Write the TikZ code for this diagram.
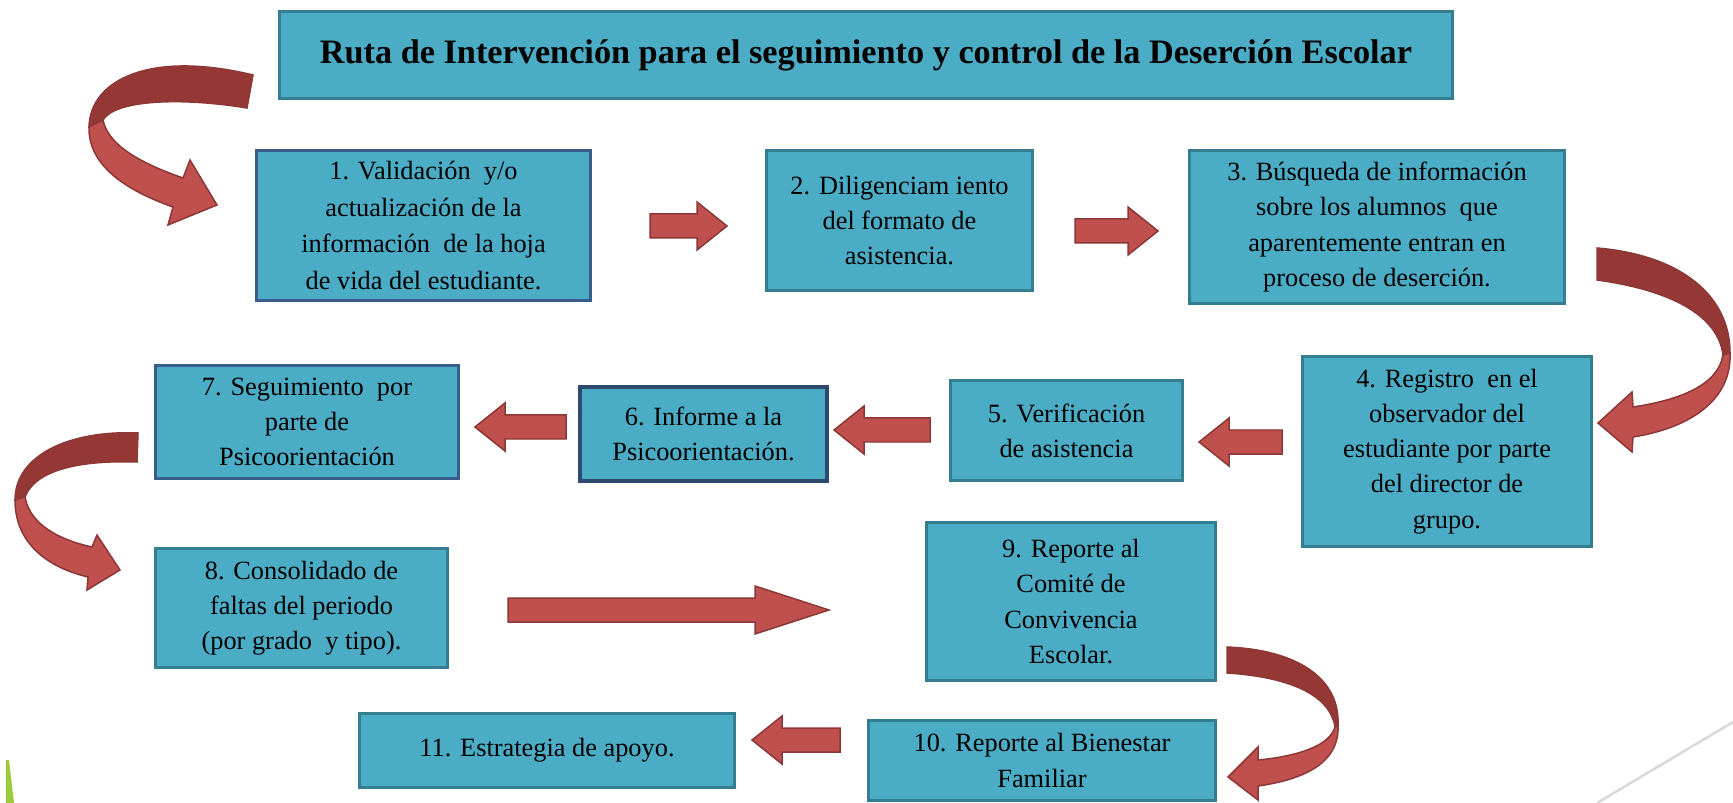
\documentclass[tikz,border=0pt]{standalone}
\usepackage{fontspec}
\setmainfont{Liberation Serif}
\usetikzlibrary{positioning}
\definecolor{cajaazul}{HTML}{4BACC6}
\definecolor{bordeteal}{HTML}{357D91}
\definecolor{bordeazul}{HTML}{385D8A}
\definecolor{rojoflecha}{HTML}{C0504D}
\definecolor{rojooscuro}{HTML}{953735}
\definecolor{rojoborde}{HTML}{8C3836}
\definecolor{verdehoja}{HTML}{9BCB3B}
\definecolor{grislinea}{HTML}{D9D9D9}
\tikzset{
  caja/.style={draw=bordeteal, fill=cajaazul, line width=0.06cm, align=center,
    inner sep=2pt, font=\fontsize{15}{20}\selectfont},
  cajaazul/.style={caja, draw=bordeazul},
  flecha/.style={fill=rojoflecha, draw=rojoborde, line width=0.03cm, line join=miter},
  flechaosc/.style={fill=rojooscuro, draw=rojoborde, line width=0.03cm},
}
% flecha de bloque: cola, punta, y centro, largo de la cabeza
\newcommand{\flechabloque}[4]{
  \pgfmathsetmacro{\xcab}{#2-#4*sign(#2-#1)}
  \draw[flecha] (#1,#3-12) -- (\xcab,#3-12) -- (\xcab,#3-24) -- (#2,#3)
    -- (\xcab,#3+24) -- (\xcab,#3+12) -- (#1,#3+12) -- cycle;
}

\begin{document}
\begin{tikzpicture}[x=0.02cm, y=-0.02cm] % {{{
\useasboundingbox (0,0) rectangle (1733,803);
% adornos de la plantilla
\fill[verdehoja] (6,760) -- (9,760) -- (14,803) -- (6,803) -- cycle;
\draw[grislinea, line width=0.05cm] (1597,803) -- (1733,722);

% Cajas {{{
\node[caja, minimum width=23.48cm, minimum height=1.76cm,
  font=\fontsize{19.5}{23}\selectfont\bfseries] (titulo) at (866,55)
  {Ruta de Intervención para el seguimiento y control de la Deserción Escolar};
\node[cajaazul, minimum width=6.70cm, minimum height=3.02cm,
  font=\fontsize{15}{21}\selectfont] (paso1) at (423.5,225.5)
  {1. Validación\ \ y/o\\actualización de la\\información\ \ de la hoja\\de vida del estudiante.};
\node[caja, minimum width=5.34cm, minimum height=2.82cm] (paso2) at (899.5,220.5)
  {2. Diligenciam iento\\del formato de\\asistencia.};
\node[caja, minimum width=7.52cm, minimum height=3.08cm] (paso3) at (1377,227)
  {3. Búsqueda de información\\sobre los alumnos\ \ que\\aparentemente entran en\\proceso de deserción.};
\node[caja, minimum width=5.80cm, minimum height=3.82cm] (paso4) at (1447,451.5)
  {4. Registro\ \ en el\\observador del\\estudiante por parte\\del director de\\grupo.};
\node[caja, minimum width=4.66cm, minimum height=2.02cm] (paso5) at (1066.5,430.5)
  {5. Verificación\\de asistencia};
\node[cajaazul, line width=0.08cm, draw=bordeazul!80!black, minimum width=4.94cm,
  minimum height=1.88cm] (paso6) at (703.5,434)
  {6. Informe a la\\Psicoorientación.};
\node[cajaazul, minimum width=6.08cm, minimum height=2.28cm] (paso7) at (307,422)
  {7. Seguimiento\ \ por\\parte de\\Psicoorientación};
\node[caja, minimum width=5.86cm, minimum height=2.40cm] (paso8) at (301.5,608)
  {8. Consolidado de\\faltas del periodo\\(por grado\ \ y tipo).};
\node[caja, minimum width=5.80cm, minimum height=3.18cm] (paso9) at (1071,601.5)
  {9. Reporte al\\Comité de\\Convivencia\\Escolar.};
\node[caja, minimum width=6.96cm, minimum height=1.62cm] (paso10) at (1042,760.5)
  {10. Reporte al Bienestar\\Familiar};
\node[caja, minimum width=7.52cm, minimum height=1.50cm] (paso11) at (547,750.5)
  {11. Estrategia de apoyo.};
% }}}

% Flechas rectas {{{
\foreach \xa/\xb/\yc/\cab in {650/727/226/30, 1075/1158/231/30, 1282/1199/442/30,
    930/834/430/30, 566/475/427/30, 508/829/610/74, 840/752/740/30} {
  \flechabloque{\xa}{\xb}{\yc}{\cab}
}
% }}}

% Flechas curvas {{{
% entrada a paso 1
\draw[flechaosc] (253,75) .. controls (150,50) and (90,80) .. (89,127) -- (103,120)
  .. controls (115,100) and (180,97) .. (247,108) -- cycle;
\draw[flecha] (89,127) .. controls (88,165) and (125,190) .. (173,207) -- (168,225)
  -- (217,205) -- (190,160) -- (183,178) .. controls (140,163) and (108,145) .. (103,120) -- cycle;
% paso 3 a paso 4
\draw[flechaosc] (1597,248) .. controls (1680,255) and (1730,295) .. (1730,353) -- (1723,355)
  .. controls (1718,315) and (1670,290) .. (1597,280) -- cycle;
\draw[flecha] (1730,353) .. controls (1732,400) and (1690,428) .. (1633,437) -- (1632,452)
  -- (1598,423) -- (1632,392) -- (1633,407) .. controls (1680,400) and (1718,385) .. (1723,355) -- cycle;
% paso 7 a paso 8
\draw[flechaosc] (138,433) .. controls (70,430) and (15,455) .. (15,500) -- (25,497)
  .. controls (35,470) and (80,460) .. (137,462) -- cycle;
\draw[flecha] (15,500) .. controls (15,545) and (50,568) .. (88,577) -- (87,590)
  -- (120,570) -- (97,535) -- (92,547) .. controls (60,540) and (30,525) .. (25,497) -- cycle;
% paso 9 a paso 10
\draw[flechaosc] (1227,647) .. controls (1300,650) and (1340,680) .. (1338,725) -- (1335,727)
  .. controls (1330,695) and (1290,677) .. (1227,673) -- cycle;
\draw[flecha] (1338,725) .. controls (1340,765) and (1300,780) .. (1258,786) -- (1258,800)
  -- (1228,777) -- (1258,747) -- (1258,760) .. controls (1300,756) and (1330,745) .. (1335,727) -- cycle;
% }}}
\end{tikzpicture} % }}}
\end{document}
